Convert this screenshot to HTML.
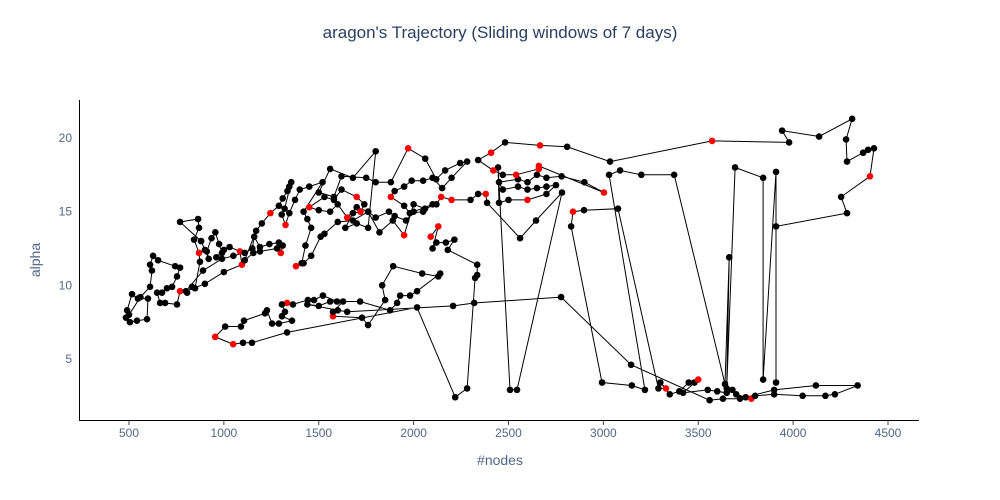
<!DOCTYPE html>
<html><head><meta charset="utf-8"><style>
body{margin:0;background:#fff;}
svg{display:block;font-family:"Liberation Sans",sans-serif;}
</style></head><body>
<svg id="chart" width="1000" height="500" viewBox="0 0 1000 500">
<text x="500" y="38" text-anchor="middle" font-size="17" fill="#2a3f5f">aragon's Trajectory (Sliding windows of 7 days)</text>
<g id="xticks"></g>
<g id="yticks"></g>
<line x1="80" y1="420.5" x2="919" y2="420.5" stroke="#000" stroke-width="1"/>
<line x1="79.5" y1="100" x2="79.5" y2="421" stroke="#000" stroke-width="1"/>
<text x="500" y="465" text-anchor="middle" font-size="14" fill="#506784">#nodes</text>
<text x="40" y="260" text-anchor="middle" font-size="14" fill="#506784" transform="rotate(-90 40 260)">alpha</text>
<polyline id="path" fill="none" stroke="#000" stroke-width="1"/>
<g id="pts"></g>
</svg>
<script>
const xTicks=[500,1000,1500,2000,2500,3000,3500,4000,4500];
const yTicks=[5,10,15,20];
const nodes=[
484,505,542,595,600,547,516,490,500,560,
611,621,611,627,653,743,769,753,727,700,
674,648,664,690,753,769,806,832,848,874,
869,843,869,864,769,880,900,920,910,935,
955,975,990,960,1000,1030,1085,1095,1000,900,
800,890,990,1050,1110,1150,1160,1190,1240,1290,
1300,1310,1280,1190,1155,1110,1170,1200,1245,1290,
1310,1335,1345,1355,1320,1305,1325,1345,1375,1400,
1450,1520,1420,1440,1460,1430,1410,1380,1420,1460,
1510,1530,1600,1680,1760,1700,1650,1600,1560,1500,
1450,1530,1580,1620,1700,1740,1720,1680,1640,1700,
1760,
1800,1680,1560,1500,1580,1620,1750,1800,1880,1971,
2061,2119,2166,2245,2282,2200,2150,2100,2050,1990,
1950,1900,1880,1950,1980,2050,2100,2000,1960,1900,
1870,1800,1760,1820,1890,1950,2000,2060,2120,2145,
2200,2300,2340,2380,2387,2561,2645,2782,2545,2508,
2445,2450,2500,2600,2700,2750,2700,2650,2600,2550,
2470,2450,2550,2600,2650,2700,2780,2900,3003,2660,
2660,2540,2470,2420,2340,2408,2482,2666,2809,3035,
3573,3979,3942,4137,4311,4279,4284,4369,4395,4426,
4405,4253,4284,3910,3910,3910,3842,3842,3694,3650,
3663,3641,3373,3200,3088,3030,3219,3150,2993,2830,
2840,2898,3077,3290,3330,3300,3350,3400,3450,3480,
3500,3420,3550,3600,3650,3680,3700,3750,3780,3800,
3900,4050,4170,4220,4340,4120,3900,3720,3630,3560,
3146,2777,2319,2208,1650,1600,1440,1500,1560,1718,
1876,1913,1929,1981,2018,2140,2130,2045,1892,1834,
1850,1760,1728,1575,1575,1628,1596,1522,1475,1443,
1364,1333,1306,1322,1306,1359,1290,1254,1227,1217,
1106,1090,1007,954,1049,1101,1148,1333,2018,2219,
2282,2324,2335,2335,2180,2215,2170,2120,2100,2130,
2090];
const alpha=[
7.8,7.5,7.6,7.7,9.1,9.1,9.4,8.3,8.0,9.2,
9.9,11.0,11.4,12.0,11.7,11.3,11.2,10.6,9.9,9.8,
9.5,9.5,8.8,8.8,8.7,9.6,9.5,9.9,9.8,11.6,
12.2,13.1,13.9,14.5,14.3,13.0,12.4,11.8,12.3,13.2,
13.6,12.8,12.2,11.9,12.4,12.6,12.3,11.4,10.9,10.1,
9.6,11.0,11.8,12.0,12.2,12.5,13.3,12.6,12.8,12.9,
12.2,12.7,12.5,12.3,12.2,11.7,13.7,14.2,14.9,15.4,
15.9,16.4,16.7,17.0,15.2,14.8,14.1,14.9,15.8,16.5,
16.7,17.0,15.0,14.5,13.9,12.7,11.5,11.3,11.5,12.0,
13.3,13.5,14.3,14.4,15.0,15.3,14.6,15.5,15.0,15.1,
15.3,16.0,15.8,16.5,16.0,15.5,15.0,14.9,13.9,14.2,
13.9,
19.1,17.3,17.9,16.3,16.0,17.4,17.3,17.0,17.0,19.3,
18.6,17.2,17.8,18.3,18.4,17.3,16.6,17.3,17.1,17.1,
16.7,16.4,16.0,15.4,14.9,15.0,15.5,15.0,14.4,14.7,
15.0,14.6,15.0,13.6,14.4,13.4,15.5,15.2,15.5,16.0,
15.8,15.8,16.2,16.2,15.6,13.2,14.4,16.3,2.9,2.9,
18.0,15.6,15.8,15.8,16.2,16.8,16.7,16.6,16.5,16.7,
16.5,17.0,17.2,17.0,17.5,17.3,17.4,17.0,16.3,18.1,
17.9,17.5,17.5,17.8,18.5,19.0,19.7,19.5,19.4,18.4,
19.8,19.7,20.5,20.1,21.3,19.9,18.4,19.0,19.2,19.3,
17.4,16.0,14.9,14.0,3.4,17.7,3.6,17.3,18.0,3.0,
11.9,3.3,17.5,17.5,17.8,17.5,2.9,3.2,3.4,14.0,
15.0,15.1,15.2,3.0,3.0,3.4,2.6,2.8,3.4,3.4,
3.6,2.7,2.9,2.8,2.7,2.9,2.6,2.4,2.3,2.5,
2.6,2.5,2.5,2.6,3.2,3.2,2.9,2.3,2.3,2.2,
4.6,9.2,8.8,8.6,8.2,8.3,8.7,8.6,8.9,8.9,
8.3,8.8,9.3,9.3,9.6,10.8,10.6,10.8,11.3,10.0,
9.0,7.3,7.8,7.9,8.2,8.9,8.9,9.3,9.0,9.0,
8.7,8.8,8.7,8.2,7.9,7.6,7.4,7.4,8.3,8.1,
7.6,7.2,7.2,6.5,6.0,6.1,6.1,6.8,8.5,2.4,
3.0,10.5,10.7,11.4,12.4,13.1,12.9,12.9,12.5,14.0,
13.3];
const highlight=[
0,0,0,0,0,0,0,0,0,0,
0,0,0,0,0,0,0,0,0,0,
0,0,0,0,0,1,0,0,0,0,
1,0,0,0,0,0,0,0,0,0,
0,0,0,0,0,0,1,1,0,0,
0,0,0,0,0,0,0,0,0,0,
1,0,0,0,0,0,0,0,1,0,
0,0,0,0,0,0,1,0,0,0,
0,0,0,0,0,0,0,1,0,0,
0,0,0,0,0,0,1,0,0,0,
1,0,0,0,1,0,1,0,0,0,
0,
0,0,0,0,0,0,0,0,0,1,
0,0,0,0,0,0,0,0,0,0,
0,0,1,0,0,0,0,0,0,0,
0,0,0,0,0,1,0,0,0,1,
1,0,0,1,0,0,0,0,0,0,
0,0,0,1,0,0,0,0,0,0,
0,0,0,0,0,0,0,0,1,1,
1,1,0,1,0,1,0,1,0,0,
1,0,0,0,0,0,0,0,0,0,
1,0,0,0,0,0,0,0,0,0,
0,0,0,0,0,0,0,0,0,0,
1,0,0,0,1,0,0,0,0,0,
1,0,0,0,0,0,0,0,1,0,
0,0,0,0,0,0,0,0,0,0,
0,0,0,0,0,0,0,0,0,0,
0,0,0,0,0,0,0,0,0,0,
0,0,0,1,0,0,0,0,0,0,
0,1,0,0,0,0,0,0,0,0,
0,0,0,1,1,0,0,0,0,0,
0,0,0,0,0,0,0,0,0,1,
1];
const NS='http://www.w3.org/2000/svg';
function sx(v){return 129+(v-500)*0.18975;}
function sy(v){return 138+(20-v)*14.73;}
const xg=document.getElementById('xticks'),yg=document.getElementById('yticks');
xTicks.forEach(t=>{
  const tx=document.createElementNS(NS,'text');
  
  
  tx.setAttribute('x',sx(t));tx.setAttribute('y',437);tx.setAttribute('text-anchor','middle');
  tx.setAttribute('font-size','12');tx.setAttribute('fill','#506784');tx.textContent=t;xg.appendChild(tx);
  const tl=document.createElementNS(NS,'line');
  
  
  tl.setAttribute('x1',sx(t));tl.setAttribute('x2',sx(t));tl.setAttribute('y1',421);tl.setAttribute('y2',425);
  tl.setAttribute('stroke','#444');xg.appendChild(tl);
});
yTicks.forEach(t=>{
  const tx=document.createElementNS(NS,'text');
  
  
  tx.setAttribute('x',72);tx.setAttribute('y',sy(t)+4);tx.setAttribute('text-anchor','end');
  tx.setAttribute('font-size','12');tx.setAttribute('fill','#506784');tx.textContent=t;yg.appendChild(tx);
});
const n=Math.min(nodes.length,alpha.length);
let pts=[];
for(let i=0;i<n;i++)pts.push(sx(nodes[i]).toFixed(1)+','+sy(alpha[i]).toFixed(1));
document.getElementById('path').setAttribute('points',pts.join(' '));
const g=document.getElementById('pts');
for(let i=0;i<n;i++){
  const c=document.createElementNS(NS,'circle');
  
  
  c.setAttribute('cx',sx(nodes[i]));c.setAttribute('cy',sy(alpha[i]));c.setAttribute('r',3.3);
  c.setAttribute('fill',highlight[i]?'#ff0000':'#000');
  g.appendChild(c);
}
</script>
</body></html>
